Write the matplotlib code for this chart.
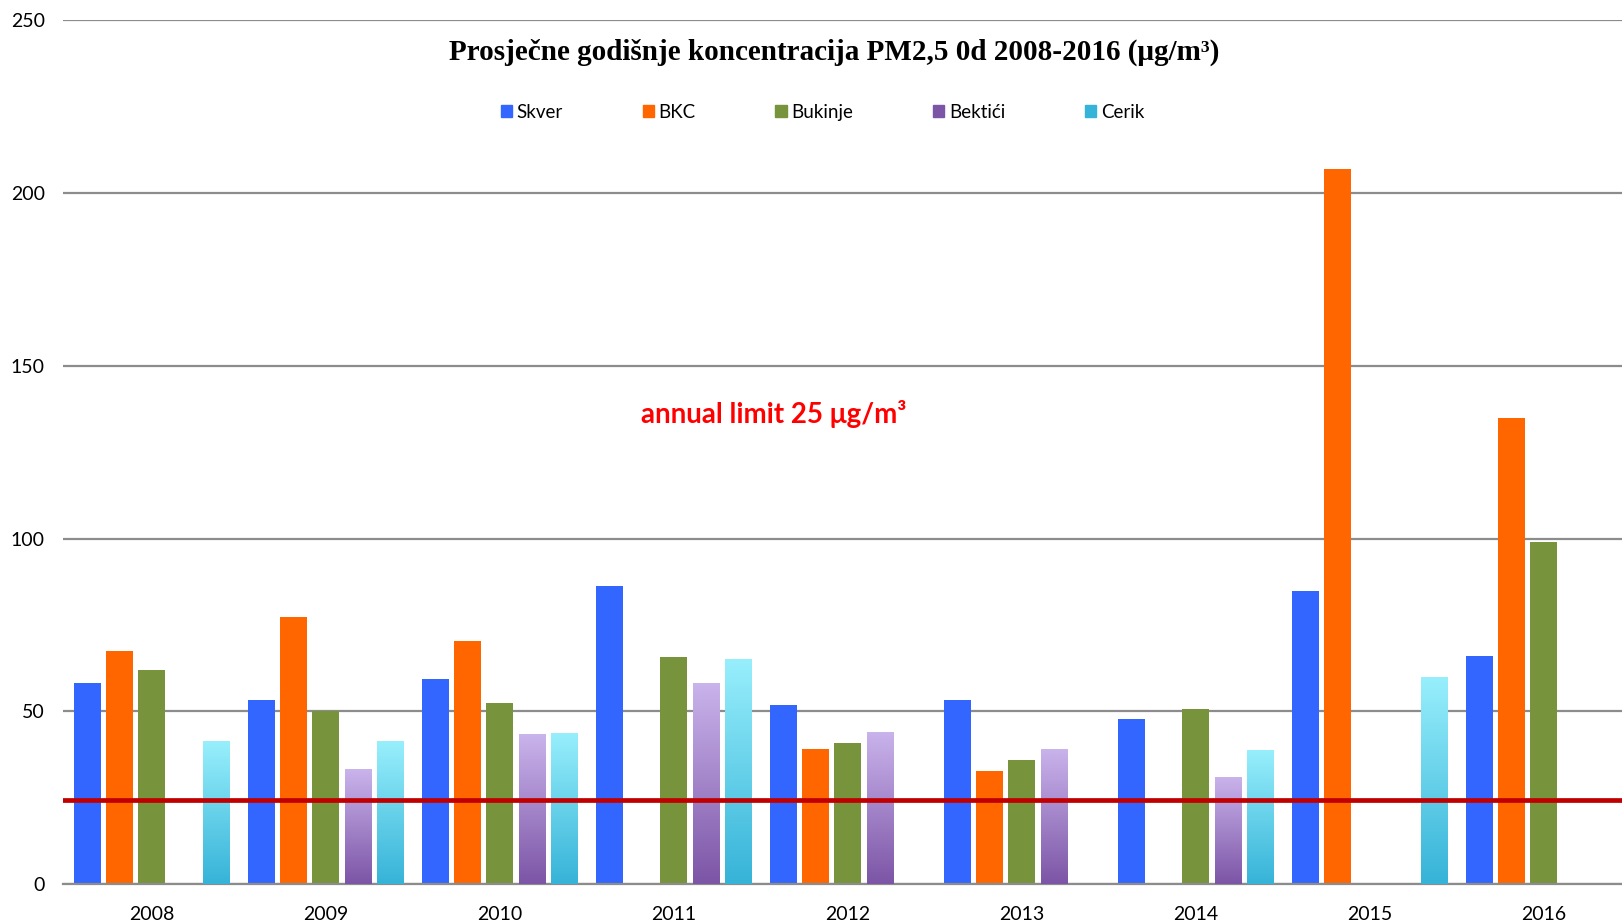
import matplotlib
matplotlib.use("Agg")
import matplotlib.pyplot as plt
import matplotlib.patches as mpatches
import matplotlib.colors as mcolors
import numpy as np

plt.rcParams['font.family'] = ['Lato', 'DejaVu Sans']

years = ['2008', '2009', '2010', '2011', '2012', '2013', '2014', '2015', '2016']
stations = ['Skver', 'BKC', 'Bukinje', 'Bektići', 'Cerik']

# nan = no measurement that year
skver   = [58.3, 53.2, 59.5, 86.4, 52.0, 53.2, 47.8, 84.9, 66.1]
bkc     = [67.6, 77.2, 70.3, np.nan, 39.2, 32.9, np.nan, 206.9, 134.9]
bukinje = [61.9, 50.0, 52.3, 65.8, 41.0, 35.9, 50.8, np.nan, 99.0]
bektici = [np.nan, 33.2, 43.4, 58.3, 44.0, 39.2, 31.1, np.nan, np.nan]
cerik   = [41.3, 41.3, 43.7, 65.2, np.nan, np.nan, 38.9, 60.1, np.nan]
annual_limit = 24.5

series = [skver, bkc, bukinje, bektici, cerik]
# solid colour or (top, bottom) gradient
fills = ['#3366FF', '#FF6600', '#77933C', ('#CAB4EC', '#7C55A6'), ('#98EFFC', '#36B3D8')]

fig = plt.figure(figsize=(16.22, 9.22), dpi=100)
ax = fig.add_axes([0.0388, 0.041, 0.9612, 0.937])

x = np.arange(len(years))
step = 0.185
width = 0.152

grad = np.linspace(1, 0, 256).reshape(-1, 1)
for i, (vals, fill) in enumerate(zip(series, fills)):
    pos = x + (i - 2) * step + 0.01
    if isinstance(fill, tuple):
        cmap = mcolors.LinearSegmentedColormap.from_list('g', [fill[1], fill[0]])
        bars = ax.bar(pos, vals, width, color=fill[1], zorder=2, linewidth=0)
        for b in bars:
            h = b.get_height()
            if np.isnan(h):
                continue
            im = ax.imshow(grad, cmap=cmap, aspect='auto', zorder=3,
                           extent=[b.get_x(), b.get_x() + b.get_width(), 0, h])
            im.set_clip_path(b)
    else:
        ax.bar(pos, vals, width, color=fill, zorder=2, linewidth=0)

ax.set_xlim(-0.5, 8.46)
ax.set_ylim(0, 250)

ax.axhline(annual_limit, color='#C00000', linewidth=3.4, zorder=4)

ax.set_yticks([0, 50, 100, 150, 200, 250])
ax.set_xticks(x + 0.01)
ax.set_xticklabels(years)
ax.tick_params(length=0, labelsize=14, colors='black')
ax.tick_params(axis='x', pad=16)
ax.tick_params(axis='y', pad=13)
ax.grid(axis='y', color='#8C8C8C', linewidth=1.6, zorder=1)
for s in ['left', 'right', 'top']:
    ax.spines[s].set_visible(False)
ax.spines['bottom'].set_color('#8C8C8C')
ax.spines['bottom'].set_linewidth(1.6)

fig.text(0.514, 0.943, 'Prosječne godišnje koncentracija PM2,5 0d 2008-2016 (μg/m³)',
         ha='center', va='center', fontsize=21, fontweight='bold',
         family=['Liberation Serif', 'DejaVu Serif'])

handles = []
for name, fill in zip(stations, fills):
    c = fill[1] if isinstance(fill, tuple) else fill
    handles.append(mpatches.Patch(color=c, label=name))
fig.legend(handles=handles, loc='center', bbox_to_anchor=(0.507, 0.878), ncol=5,
           frameon=False, fontsize=13.5, handlelength=0.6, handleheight=0.6,
           handletextpad=0.25, columnspacing=4.25)

fig.text(0.395, 0.551, 'annual limit 25 μg/m³',
         color='#FF0000', fontsize=20, fontweight='bold', va='center', ha='left')

fig.savefig('out.png', dpi=100)
